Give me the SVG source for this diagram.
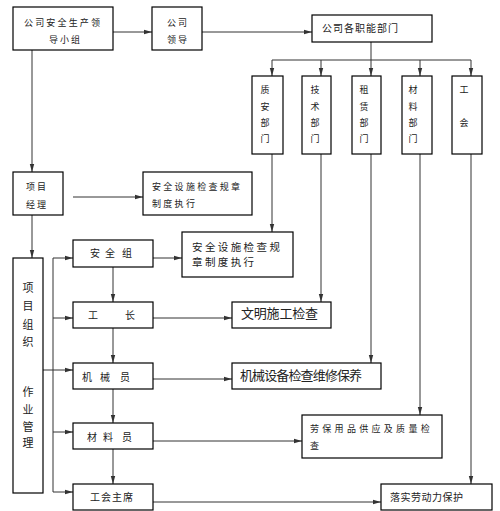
<svg xmlns="http://www.w3.org/2000/svg" width="500" height="511" viewBox="0 0 500 511">
<style>
.b{fill:#fff;stroke:#000;stroke-width:1.2}
.c line,.c path{stroke:#333;stroke-width:1;fill:none}
.a{marker-end:url(#ar)}
text{font-family:"Noto Sans CJK SC","Noto Sans",sans-serif;fill:#222}
.s{font-size:9px;letter-spacing:2px}
.m{font-size:10px}
.v{font-size:9px;text-anchor:middle}
.vl{font-size:11px;text-anchor:middle}
</style>
<defs>
<marker id="ar" markerWidth="8" markerHeight="6" refX="8" refY="3" orient="auto" markerUnits="userSpaceOnUse">
<path d="M0,0.8 L8,3 L0,5.2 Z" fill="#333"/>
</marker>
</defs>
<rect width="500" height="511" fill="#fff"/>
<g class="c">
<line class="a" x1="113" y1="32" x2="152" y2="32"/>
<line class="a" x1="202" y1="32" x2="312" y2="32"/>
<line x1="371" y1="42" x2="371" y2="60"/>
<line x1="272" y1="60" x2="471" y2="60"/>
<line class="a" x1="272" y1="60" x2="272" y2="76"/>
<line class="a" x1="321" y1="60" x2="321" y2="76"/>
<line class="a" x1="371" y1="60" x2="371" y2="76"/>
<line class="a" x1="420" y1="60" x2="420" y2="76"/>
<line class="a" x1="471" y1="60" x2="471" y2="76"/>
<line class="a" x1="272" y1="154" x2="272" y2="232"/>
<line class="a" x1="321" y1="154" x2="321" y2="302"/>
<line class="a" x1="371" y1="154" x2="371" y2="363"/>
<line class="a" x1="420" y1="154" x2="420" y2="415"/>
<line class="a" x1="471" y1="154" x2="471" y2="484"/>
<line class="a" x1="32" y1="50" x2="32" y2="172"/>
<line class="a" x1="73" y1="197" x2="143" y2="197"/>
<line class="a" x1="32" y1="215" x2="32" y2="258"/>
<line x1="53" y1="258" x2="53" y2="492"/>
<line class="a" x1="53" y1="258" x2="73" y2="258"/>
<line class="a" x1="53" y1="318" x2="73" y2="318"/>
<line class="a" x1="43" y1="370" x2="73" y2="370"/>
<line class="a" x1="53" y1="432" x2="73" y2="432"/>
<line class="a" x1="53" y1="492" x2="73" y2="492"/>
<line class="a" x1="153" y1="258" x2="182" y2="258"/>
<line class="a" x1="113" y1="267" x2="113" y2="302"/>
<line class="a" x1="113" y1="328" x2="113" y2="363"/>
<line class="a" x1="113" y1="389" x2="113" y2="423"/>
<line class="a" x1="113" y1="449" x2="113" y2="484"/>
<line class="a" x1="153" y1="318" x2="232" y2="318"/>
<line class="a" x1="153" y1="379" x2="232" y2="379"/>
<line class="a" x1="153" y1="441" x2="302" y2="441"/>
<line class="a" x1="153" y1="502" x2="381" y2="502"/>
</g>
<g id="n-group"><rect class="b" x="13" y="7" width="100" height="43"/>
<text class="s" x="24" y="25.5" textLength="78" lengthAdjust="spacing">公司安全生产领</text><text class="s" x="49" y="42.5">导小组</text></g>
<g id="n-leader"><rect class="b" x="152" y="7" width="50" height="43"/>
<text class="s" x="167" y="25.5">公司</text><text class="s" x="167" y="42.5">领导</text></g>
<g id="n-depts"><rect class="b" x="312" y="15" width="120" height="27"/>
<text class="m" x="322" y="32" textLength="76" lengthAdjust="spacing">公司各职能部门</text></g>
<g id="n-zhian"><rect class="b" x="252" y="76" width="31" height="78"/>
<text class="v" x="265" y="92.5">质</text><text class="v" x="265" y="109.5">安</text><text class="v" x="265" y="125.5">部</text><text class="v" x="265" y="141.5">门</text></g>
<g id="n-jishu"><rect class="b" x="302" y="76" width="29" height="78"/>
<text class="v" x="315" y="92.5">技</text><text class="v" x="315" y="109.5">术</text><text class="v" x="315" y="125.5">部</text><text class="v" x="315" y="141.5">门</text></g>
<g id="n-zulin"><rect class="b" x="352" y="76" width="29" height="78"/>
<text class="v" x="364" y="92.5">租</text><text class="v" x="364" y="109.5">赁</text><text class="v" x="364" y="125.5">部</text><text class="v" x="364" y="141.5">门</text></g>
<g id="n-cailiao"><rect class="b" x="402" y="76" width="30" height="78"/>
<text class="v" x="413" y="92.5">材</text><text class="v" x="413" y="109.5">料</text><text class="v" x="413" y="125.5">部</text><text class="v" x="413" y="141.5">门</text></g>
<g id="n-gonghui"><rect class="b" x="452" y="76" width="30" height="78"/>
<text class="v" x="464" y="92.5">工</text><text class="v" x="464" y="125.5">会</text></g>
<g id="n-pm"><rect class="b" x="13" y="172" width="50" height="43"/>
<text class="s" x="26" y="189.5">项目</text><text class="s" x="26" y="207.5">经理</text></g>
<g id="n-rule1"><rect class="b" x="143" y="172" width="109" height="43"/>
<text class="s" x="152" y="189.5" style="letter-spacing:2.3px">安全设施检查规章</text><text class="s" x="152" y="206.5" style="letter-spacing:2.3px">制度执行</text></g>
<g id="n-org"><rect class="b" x="13" y="258" width="30" height="235"/>
<text class="vl" x="28" y="292">项</text><text class="vl" x="28" y="310">目</text><text class="vl" x="28" y="329">组</text><text class="vl" x="28" y="346">织</text>
<text class="vl" x="28" y="396">作</text><text class="vl" x="28" y="414">业</text><text class="vl" x="28" y="431">管</text><text class="vl" x="28" y="447">理</text></g>
<g id="n-safety"><rect class="b" x="73" y="240" width="80" height="27"/>
<text class="m" x="90 105 122" y="257">安全组</text></g>
<g id="n-rule2"><rect class="b" x="182" y="232" width="111" height="45"/>
<text x="192" y="251" style="font-size:10.5px;letter-spacing:2.4px">安全设施检查规</text><text x="192" y="266" style="font-size:10.5px;letter-spacing:2.4px">章制度执行</text></g>
<g id="n-foreman"><rect class="b" x="73" y="302" width="80" height="26"/>
<text class="m" x="88 125" y="319">工长</text></g>
<g id="n-civil"><rect class="b" x="232" y="302" width="99" height="26"/>
<text x="241" y="318" style="font-size:13px" textLength="77" lengthAdjust="spacing">文明施工检查</text></g>
<g id="n-mech"><rect class="b" x="73" y="363" width="80" height="26"/>
<text class="m" x="82 100 120" y="380.5">机械员</text></g>
<g id="n-mechcheck"><rect class="b" x="232" y="363" width="149" height="26"/>
<text x="240" y="380" style="font-size:13px" textLength="122" lengthAdjust="spacing">机械设备检查维修保养</text></g>
<g id="n-mat"><rect class="b" x="73" y="423" width="80" height="26"/>
<text class="m" x="87 103 122" y="440.5">材料员</text></g>
<g id="n-ppe"><rect class="b" x="302" y="415" width="140" height="43"/>
<text class="s" x="310" y="431.5" style="letter-spacing:3.3px">劳保用品供应及质量检</text><text class="s" x="310" y="448.5">查</text></g>
<g id="n-union"><rect class="b" x="73" y="484" width="80" height="26"/>
<text class="m" x="90" y="501" style="letter-spacing:1px">工会主席</text></g>
<g id="n-labor"><rect class="b" x="381" y="484" width="111" height="26"/>
<text class="m" x="390" y="501" style="letter-spacing:0.5px">落实劳动力保护</text></g>
</svg>
